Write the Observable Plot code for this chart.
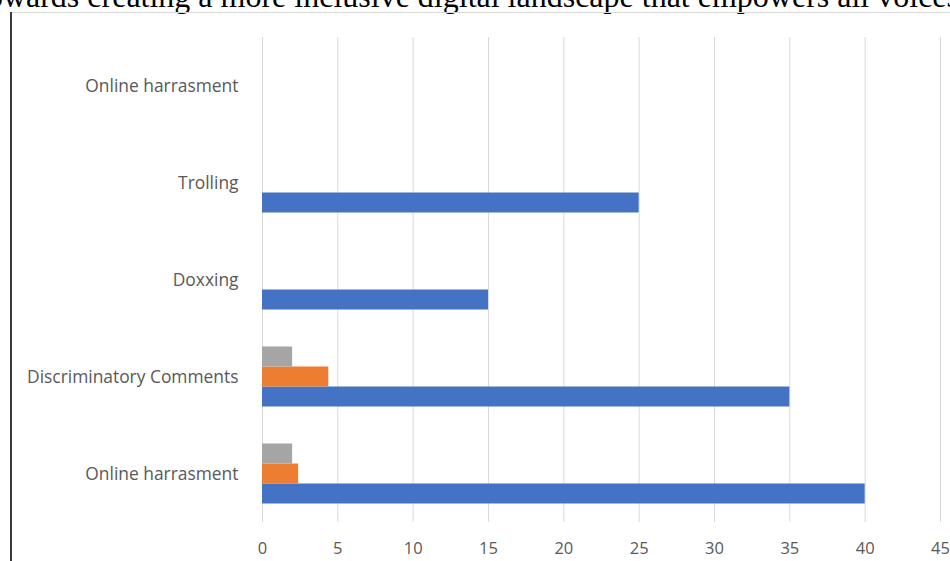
<!DOCTYPE html>
<html>
<head>
<meta charset="utf-8">
<script src="https://cdn.jsdelivr.net/npm/d3@7"></script>
<script src="https://cdn.jsdelivr.net/npm/@observablehq/plot@0.6"></script>
<style>
  html, body { margin: 0; padding: 0; background: #fff; overflow: hidden; }
  #wrap { position: relative; width: 950px; height: 561px; overflow: hidden; }
  #title { position: absolute; left: -22px; top: -20px; white-space: nowrap; line-height: 32px;
    font-family: "Liberation Serif", "DejaVu Serif", serif; font-size: 32px; color: #000; }
  #hline { position: absolute; left: 10px; top: 12px; width: 940px; height: 1px; background: #d9d9d9; }
  #vline { position: absolute; left: 10px; top: 12px; width: 2px; height: 549px; background: #3a3a3a; }
  #chart { position: absolute; left: 0; top: 0; }
</style>
</head>
<body>
<div id="wrap">
  <div id="title">towards creating a more inclusive digital landscape that empowers all voices.</div>
  <div id="hline"></div>
  <div id="vline"></div>
  <div id="chart"></div>
</div>
<script>
// categories, top to bottom
const categories = ["Online harrasment", "Trolling", "Doxxing", "Discriminatory Comments", "Online harrasment"];
const series = ["Series1", "Series2", "Series3"];
const seriesColors = ["#4472C4", "#ED7D31", "#A5A5A5"];
const series1 = [null, 25, 15, 35, 40];
const series2 = [null, null, null, 4.4, 2.4];
const series3 = [null, null, null, 2, 2];
const xTicks = [0, 5, 10, 15, 20, 25, 30, 35, 40, 45];

const rows = [];
categories.forEach((c, i) => {
  [series1, series2, series3].forEach((arr, s) => {
    rows.push({cat: i, series: series[s], value: arr[i]});
  });
});

const chart = Plot.plot({
  width: 950,
  height: 561,
  marginLeft: 262,
  marginRight: 10,
  marginTop: 35.5,
  marginBottom: 38.5,
  style: {fontFamily: "'Open Sans', sans-serif", color: "#595959", background: "transparent"},
  x: {domain: [0, 45], ticks: xTicks, label: null},
  fy: {domain: categories.map((_, i) => i), padding: 0, label: null, axis: null},
  y: {domain: ["Series3", "Series2", "Series1"], paddingInner: 0, paddingOuter: 0.9, axis: null},
  color: {domain: series, range: seriesColors},
  marks: [
    Plot.gridX(xTicks, {stroke: "#d9d9d9", strokeOpacity: 1, strokeWidth: 1}),
    Plot.barX(rows.filter(d => d.value != null), {fy: "cat", y: "series", x: "value", fill: "series"}),
    Plot.barX(rows, {fy: "cat", y: "series", x: () => 0, fill: "none"}),
    Plot.axisX({ticks: xTicks, tickSize: 0, tickPadding: 19.5, fontSize: 16.5, fill: "#595959", label: null}),
    Plot.axisFy({anchor: "left", tickSize: 0, tickPadding: 24, fontSize: 17.4, fill: "#595959", label: null,
      tickFormat: i => categories[i]})
  ]
});
document.getElementById("chart").appendChild(chart);
</script>
</body>
</html>
